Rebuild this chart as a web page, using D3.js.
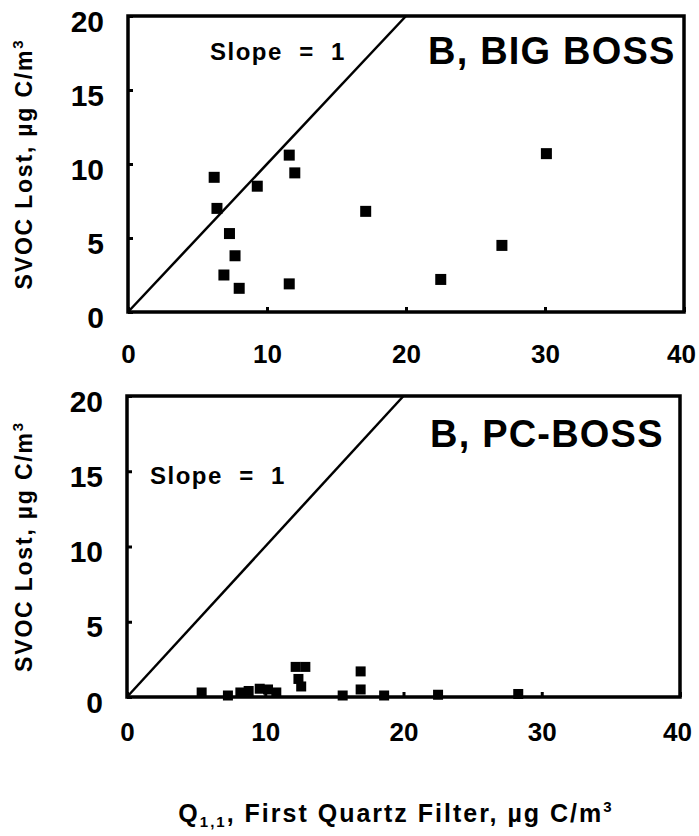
<!DOCTYPE html>
<html>
<head>
<meta charset="utf-8">
<title>SVOC lost vs first quartz filter</title>
<script src="https://cdn.jsdelivr.net/npm/d3@7"></script>
<style>
  body { margin: 0; background: #fff; }
  text { font-family: "Liberation Sans", Arial, sans-serif; font-weight: bold; fill: #000; }
  .frame { fill: none; stroke: #000; stroke-width: 3.5px; }
  .slope { stroke: #000; stroke-width: 2.5px; }
</style>
</head>
<body>
<script>
// data
var bigBossQ    = [6.2, 6.4, 7.3, 7.7, 6.9, 8.0, 9.3, 11.6, 12.0, 11.6, 17.1, 30.1, 26.9, 22.5];
var bigBossLost = [9.1, 7.0, 5.3, 3.8, 2.5, 1.6, 8.5, 10.6, 9.4, 1.9, 6.8, 10.7, 4.5, 2.2];
var pcBossQ     = [5.4, 7.3, 8.2, 8.8, 9.6, 10.2, 10.8, 12.2, 12.9, 12.4, 12.6, 15.6, 16.9, 16.9, 18.6, 22.5, 28.3];
var pcBossLost  = [0.3, 0.1, 0.3, 0.4, 0.55, 0.5, 0.3, 2.0, 2.0, 1.2, 0.7, 0.1, 1.7, 0.5, 0.1, 0.15, 0.2];
var xTicks = [0, 10, 20, 30, 40];
var yTicks = [0, 5, 10, 15, 20];
var slopeLine = [0, 20];

var width = 699, height = 836;
var svg = d3.select("body").append("svg").attr("width", width).attr("height", height);

var panels = [
  { name: "B, BIG BOSS", q: bigBossQ, lost: bigBossLost, left: 128, right: 684, top: 16, bottom: 312,
    xPad: 33, sq: 11, nameX: 428, nameY: 64, slopeX: 210, slopeY: 60 },
  { name: "B, PC-BOSS", q: pcBossQ, lost: pcBossLost, left: 127, right: 680, top: 396, bottom: 697,
    xPad: 26, sq: 10, nameX: 430, nameY: 447, slopeX: 150, slopeY: 484 }
];

panels.forEach(function(p) {
  var x = d3.scaleLinear().domain([0, 40]).range([p.left, p.right]);
  var y = d3.scaleLinear().domain([0, 20]).range([p.bottom, p.top]);
  var g = svg.append("g");

  var ya = g.append("g").attr("transform", "translate(" + p.left + ",0)")
    .call(d3.axisLeft(y).tickValues(yTicks).tickFormat(d3.format("d")).tickSizeInner(-5).tickSizeOuter(0).tickPadding(24));
  ya.select(".domain").remove();
  ya.selectAll(".tick line").attr("stroke-width", 3);
  ya.selectAll("text").attr("font-size", 30).attr("dy", "0.5em");

  var xa = g.append("g").attr("transform", "translate(0," + p.bottom + ")")
    .call(d3.axisBottom(x).tickValues(xTicks).tickFormat(d3.format("d")).tickSizeInner(-5).tickSizeOuter(0).tickPadding(p.xPad));
  xa.select(".domain").remove();
  xa.selectAll(".tick line").attr("stroke-width", 3);
  xa.selectAll("text").attr("font-size", 26)
    .attr("dx", function(d) { return d === 40 ? -3 : 0; });

  g.append("rect").attr("class", "frame")
    .attr("x", p.left).attr("y", p.top)
    .attr("width", p.right - p.left).attr("height", p.bottom - p.top);

  g.append("line").attr("class", "slope")
    .attr("x1", x(slopeLine[0])).attr("y1", y(slopeLine[0]))
    .attr("x2", x(slopeLine[1])).attr("y2", y(slopeLine[1]));

  g.selectAll("rect.pt").data(p.q).enter().append("rect")
    .attr("class", "pt")
    .attr("x", function(d) { return x(d) - p.sq / 2; })
    .attr("y", function(d, i) { return y(p.lost[i]) - p.sq / 2; })
    .attr("width", p.sq).attr("height", p.sq)
    .attr("fill", "#000");

  g.append("text").attr("x", p.nameX).attr("y", p.nameY)
    .attr("font-size", 38).attr("letter-spacing", 1.2).text(p.name);

  g.append("text").attr("x", p.slopeX).attr("y", p.slopeY)
    .attr("font-size", 24).attr("letter-spacing", 1.5).attr("xml:space", "preserve").text("Slope  =  1");

  // y axis title
  var yt = g.append("text")
    .attr("transform", "translate(32," + ((p.top + p.bottom) / 2) + ") rotate(-90)")
    .attr("text-anchor", "middle").attr("font-size", 23).attr("letter-spacing", 1.8);
  yt.append("tspan").text("SVOC Lost, \u00b5g C/m");
  yt.append("tspan").attr("font-size", 15).attr("dy", -9).text("3");
});

// x axis title
var xt = svg.append("text").attr("x", 396).attr("y", 822)
  .attr("text-anchor", "middle").attr("font-size", 25).attr("letter-spacing", 2);
xt.append("tspan").text("Q");
xt.append("tspan").attr("font-size", 15).attr("dy", 5).text("1,1");
xt.append("tspan").attr("dy", -5).text(", First Quartz Filter, \u00b5g C/m");
xt.append("tspan").attr("font-size", 15).attr("dy", -10).text("3");
</script>
</body>
</html>
